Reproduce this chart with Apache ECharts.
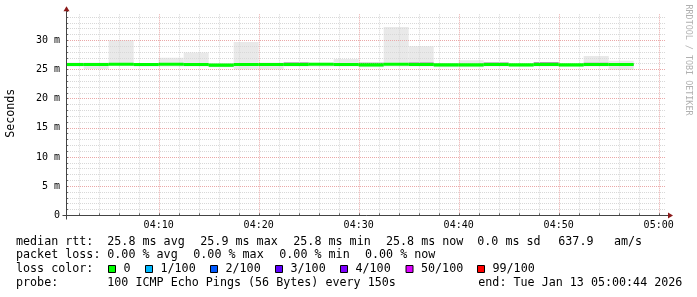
<!DOCTYPE html>
<html><head><meta charset="utf-8">
<script src="https://cdn.jsdelivr.net/npm/echarts@6/dist/echarts.min.js"></script>
<style>html,body{margin:0;padding:0;background:#fff}#c{width:697px;height:297px}</style>
</head><body><div id="c"></div>
<script>
// ---- data (time in seconds after 04:00:00, values in ms) ----
const stepStart = [0,150,300,450,600,750,900,1050,1200,1350,1500,1650,1800,1950,2100,2250,2400,2550,2700,2850,3000,3150,3300];
const stepLen = 150;
const median   = [25.85,25.85,25.9,25.85,25.9,25.85,25.75,25.85,25.85,25.85,25.9,25.85,25.8,25.9,25.85,25.8,25.8,25.85,25.8,25.85,25.8,25.85,25.85];
const smokeMin = [25.5,25.1,25.6,25.5,25.5,25.5,25.4,25.0,25.0,25.5,25.5,25.5,25.4,25.5,25.5,25.4,25.4,25.5,25.5,25.5,25.5,25.5,24.9];
const smokeMax = [26.2,26.2,30.0,26.1,27.0,27.9,26.1,29.7,26.2,26.3,26.2,26.8,26.2,32.3,29.0,26.1,26.6,26.2,26.0,26.2,26.0,27.3,26.5];
const coreLo   = [25.7,25.7,25.75,25.7,25.75,25.7,25.55,25.7,25.7,25.7,25.75,25.7,25.65,25.75,25.7,25.65,25.65,25.7,25.65,25.7,25.65,25.7,25.7];
const coreHi   = [26.0,26.0,26.1,26.0,26.1,26.0,25.9,26.0,26.0,26.2,26.05,26.0,26.15,26.05,26.2,25.95,25.95,26.2,25.95,26.25,25.95,26.15,26.0];
const viewStart = 44, viewEnd = 3644;
const xLabelTimes = [600,1200,1800,2400,3000,3600];
const xLabelText  = ['04:10','04:20','04:30','04:40','04:50','05:00'];
const gridTimes = [120,240,360,480,600,720,840,960,1080,1200,1320,1440,1560,1680,1800,1920,2040,2160,2280,2400,2520,2640,2760,2880,3000,3120,3240,3360,3480,3600];
const yMax = 35;

const legendRtt = [['median rtt:',16],['25.8 ms avg',107.3],['25.9 ms max',200.3],['25.8 ms min',293.3],['25.8 ms now',386],['0.0 ms sd',477.3],['637.9',558.3],['am/s',614]];
const legendLoss = [['packet loss:',16],['0.00 % avg',107.3],['0.00 % max',193.3],['0.00 % min',279.3],['0.00 % now',365]];
const lossLabels = ['0','1/100','2/100','3/100','4/100','50/100','99/100'];
const lossColors = ['#00ff00','#00b8ff','#0059ff','#5e00ff','#7e00ff','#dd00ff','#ff0000'];
const lossBoxX = [108.5,145.5,210.5,275.5,340.5,406,477.5];
const probeText = [['probe:',16],['100 ICMP Echo Pings (56 Bytes) every 150s',107.3],['end: Tue Jan 13 05:00:44 2026',478.3]];

const MONO = 'DejaVu Sans Mono';
const FS = 11.7;

const smokeData = stepStart.map((s,i)=>[s, s+stepLen, smokeMin[i], smokeMax[i]]);
const coreData = stepStart.map((s,i)=>[s, s+stepLen, coreLo[i], coreHi[i]]);
const medData = stepStart.map((s,i)=>[s, s+stepLen, median[i]]);

const splitColors = [];
for (let v=0; v<=yMax; v++) {
  splitColors.push((v===0||v===yMax) ? 'rgba(0,0,0,0)' : (v%5===0 ? '#eaa8a8' : '#d8d8d8'));
}

function rectItem(fill){
  return function(params, api){
    const p1 = api.coord([Math.max(api.value(0),viewStart), api.value(3)]);
    const p2 = api.coord([api.value(1), api.value(2)]);
    return {type:'rect', shape:{x:p1[0], y:p1[1], width:p2[0]-p1[0], height:p2[1]-p1[1]}, style:{fill:fill}};
  };
}

const graphics = [];
function txt(t,x,y,extra){ graphics.push(Object.assign({type:'text', x:x, y:y, style:{text:t, font:FS+'px "'+MONO+'"', fill:'#000', verticalAlign:'middle', align:'left'}}, extra||{})); }
legendRtt.forEach(a=>txt(a[0],a[1],241.5));
legendLoss.forEach(a=>txt(a[0],a[1],255.3));
txt('loss color:',16,269);
lossLabels.forEach((l,i)=>{
  graphics.push({type:'rect', shape:{x:lossBoxX[i], y:265.5, width:7, height:7}, style:{fill:lossColors[i], stroke:'#000', lineWidth:1}});
  txt(l, lossBoxX[i]+15, 269);
});
probeText.forEach(a=>txt(a[0],a[1],282.7));
graphics.push({type:'text', x:688, y:60, rotation:-Math.PI/2, style:{text:'RRDTOOL / TOBI OETIKER', font:'8.4px "'+MONO+'"', fill:'#b0b0b0', align:'center', verticalAlign:'middle'}});

const chart = echarts.init(document.getElementById('c'), null, {renderer:'canvas'});
chart.setOption({
  animation:false,
  backgroundColor:'#fff',
  grid:{left:66, top:215.3-yMax*5.833, width:600, height:yMax*5.833, containLabel:false, outerBoundsMode:'none'},
  xAxis:{type:'value', min:viewStart, max:viewEnd, z:5,
    axisLine:{show:false},
    axisTick:{show:false}, splitLine:{show:false},
    axisLabel:{customValues:xLabelTimes, formatter:v=>xLabelText[xLabelTimes.indexOf(v)]||'', fontFamily:MONO, fontSize:10, color:'#000', margin:5}
  },
  yAxis:{type:'value', min:0, max:yMax, interval:1, z:3,
    name:'Seconds', nameLocation:'middle', nameGap:49, nameRotate:90,
    nameTextStyle:{fontFamily:MONO, fontSize:FS, color:'#000'},
    axisLine:{show:false},
    axisTick:{show:true, inside:true, length:2, lineStyle:{color:'#666'}},
    axisLabel:{formatter:v=>(v%5===0 && v<yMax)?(v===0?'0':v+' m'):'', fontFamily:MONO, fontSize:10, color:'#000', margin:6},
    splitLine:{show:true, lineStyle:{color:splitColors, type:[1,1], width:1}}
  },
  graphic:graphics,
  series:[
    {type:'custom', z:1, clip:true, data:smokeData, renderItem:rectItem('#e9e9e9'), silent:true},
    {type:'custom', z:1, clip:true, data:coreData, renderItem:rectItem('#8c8c8c'), silent:true},
    {type:'custom', z:3, clip:true, data:gridTimes, silent:true,
      renderItem:function(params, api){
        const t = api.value(0);
        const a = api.coord([t,0]), b = api.coord([t,yMax]);
        return {type:'group', children:[
          {type:'line', shape:{x1:Math.round(a[0])+0.5, y1:a[1], x2:Math.round(a[0])+0.5, y2:b[1]+2}, style:{stroke:(t%600===0)?'#eaa8a8':'#d8d8d8', lineDash:[1,1], lineWidth:1}},
          {type:'line', shape:{x1:Math.round(a[0])+0.5, y1:a[1]-2, x2:Math.round(a[0])+0.5, y2:a[1]}, style:{stroke:'#666', lineWidth:1}}
        ]};
      }},
    {type:'custom', z:4, clip:true, data:medData, silent:true,
      renderItem:function(params, api){
        const p1 = api.coord([Math.max(api.value(0),viewStart), api.value(2)]);
        const p2 = api.coord([api.value(1), api.value(2)]);
        return {type:'rect', shape:{x:p1[0], y:p1[1]-1.6, width:p2[0]-p1[0], height:3.2}, style:{fill:'#00ff00'}};
      }},
    {type:'custom', z:6, clip:false, data:[[viewEnd,yMax]], silent:true,
      renderItem:function(params, api){
        const o = api.coord([viewStart,0]);
        const xe = api.coord([viewEnd,0]);
        const ye = api.coord([viewStart,yMax]);
        const ox = Math.round(o[0])+0.5, oy = Math.round(o[1])+0.5;
        return {type:'group', children:[
          {type:'line', shape:{x1:ox-4, y1:oy, x2:xe[0]+4, y2:oy}, style:{stroke:'#444', lineWidth:1}},
          {type:'line', shape:{x1:ox, y1:oy+4, x2:ox, y2:ye[1]}, style:{stroke:'#444', lineWidth:1}},
          {type:'polygon', shape:{points:[[xe[0]+2,oy-3],[xe[0]+7,oy],[xe[0]+2,oy+3]]}, style:{fill:'#8b1a1a'}},
          {type:'polygon', shape:{points:[[ox-3,ye[1]],[ox,ye[1]-5],[ox+3,ye[1]]]}, style:{fill:'#8b1a1a'}}
        ]};
      }}
  ]
});
</script></body></html>
